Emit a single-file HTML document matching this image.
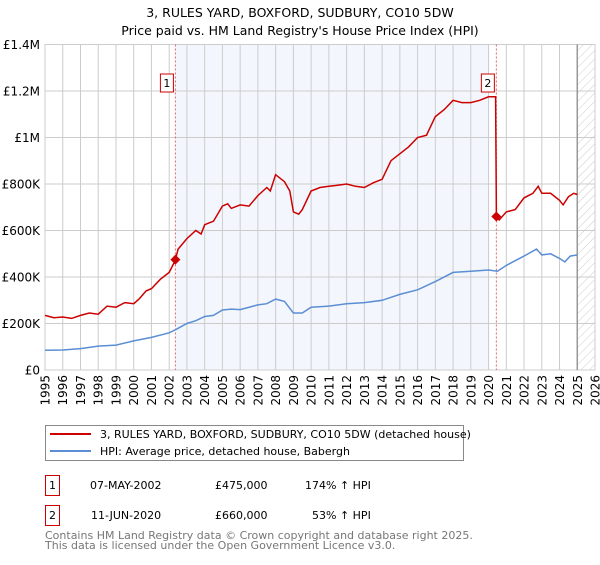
<!DOCTYPE html>
<html><head><meta charset="utf-8"><style>
body{margin:0;background:#fff;font-family:"Liberation Sans","DejaVu Sans",sans-serif;}
svg text{font-family:"DejaVu Sans","Liberation Sans",sans-serif;}
</style></head><body>
<svg id="chart" width="600" height="560" xmlns="http://www.w3.org/2000/svg">
<defs><pattern id="hatch" width="6" height="6" patternUnits="userSpaceOnUse" patternTransform="rotate(45)"><line x1="0" y1="0" x2="0" y2="6" stroke="#ccc" stroke-width="1"/></pattern></defs>
<text x="300" y="17" text-anchor="middle" font-size="12.5">3, RULES YARD, BOXFORD, SUDBURY, CO10 5DW</text>
<text x="300" y="35" text-anchor="middle" font-size="12.5">Price paid vs. HM Land Registry's House Price Index (HPI)</text>
<g id="plot"></g>
<g>
<rect x="45.5" y="425.5" width="418" height="35" fill="#fff" stroke="#888"/>
<line x1="50" y1="434" x2="91" y2="434" stroke="#cc0000" stroke-width="2"/>
<text x="100" y="438" font-size="11">3, RULES YARD, BOXFORD, SUDBURY, CO10 5DW (detached house)</text>
<line x1="50" y1="451" x2="91" y2="451" stroke="#5b8ed4" stroke-width="2"/>
<text x="100" y="455" font-size="11">HPI: Average price, detached house, Babergh</text>
</g>
<g font-size="11">
<rect x="45.5" y="475.5" width="14" height="20" fill="#fff" stroke="#cc0000"/><text x="52.5" y="489" text-anchor="middle">1</text>
<text x="90" y="489">07-MAY-2002</text><text x="215" y="489">£475,000</text><text x="305" y="489">174% ↑ HPI</text>
<rect x="45.5" y="505.5" width="14" height="20" fill="#fff" stroke="#cc0000"/><text x="52.5" y="519" text-anchor="middle">2</text>
<text x="91" y="519">11-JUN-2020</text><text x="215" y="519">£660,000</text><text x="312" y="519">53% ↑ HPI</text>
</g>
<text x="45" y="539" font-size="11" fill="#777">Contains HM Land Registry data © Crown copyright and database right 2025.</text>
<text x="45" y="549" font-size="11" fill="#777">This data is licensed under the Open Government Licence v3.0.</text>
</svg>
<script>
const redX=[1995,1995.5,1996,1996.5,1997,1997.5,1998,1998.5,1999,1999.5,2000,2000.3,2000.7,2001,2001.5,2002,2002.3,2002.35,2002.5,2003,2003.5,2003.8,2004,2004.5,2005,2005.3,2005.5,2006,2006.5,2007,2007.5,2007.7,2008,2008.5,2008.8,2009,2009.3,2009.5,2010,2010.5,2011,2011.5,2012,2012.5,2013,2013.5,2014,2014.5,2015,2015.5,2016,2016.5,2017,2017.5,2018,2018.5,2019,2019.5,2020,2020.4,2020.44,2020.6,2021,2021.5,2022,2022.5,2022.8,2023,2023.5,2024,2024.2,2024.5,2024.8,2025];
const redY=[235,225,228,222,235,245,240,275,270,290,285,305,340,350,390,420,465,475,520,565,600,585,625,640,705,715,695,710,705,750,785,770,840,810,770,680,670,690,770,785,790,795,800,790,785,805,820,900,930,960,1000,1010,1090,1120,1160,1150,1150,1160,1175,1175,660,645,680,690,740,760,790,760,760,730,710,745,760,755];
const hpiX=[1995,1996,1997,1998,1999,2000,2001,2002,2002.4,2003,2003.5,2004,2004.5,2005,2005.5,2006,2007,2007.5,2008,2008.5,2009,2009.5,2010,2011,2012,2013,2014,2015,2016,2017,2018,2019,2020,2020.5,2021,2022,2022.7,2023,2023.5,2024,2024.3,2024.6,2025];
const hpiY=[85,86,92,103,107,125,140,160,175,200,212,230,235,258,262,260,280,285,305,295,245,245,270,275,285,290,300,325,345,380,420,425,430,425,450,490,520,495,500,480,465,490,495];
const yTicks=[0,200,400,600,800,1000,1200,1400];
const yTickLabels=["£0","£200K","£400K","£600K","£800K","£1M","£1.2M","£1.4M"];
const xTicks=[1995,1996,1997,1998,1999,2000,2001,2002,2003,2004,2005,2006,2007,2008,2009,2010,2011,2012,2013,2014,2015,2016,2017,2018,2019,2020,2021,2022,2023,2024,2025,2026];
const saleX=[2002.35,2020.44];
const saleY=[475,660];
const saleLabels=["1","2"];

const L=45,R=595,T=44.5,B=370;
const sx=v=>L+(v-1995)/(2026-1995)*(R-L);
const sy=v=>B-v/1400*(B-T);
const g=document.getElementById('plot');
const NS='http://www.w3.org/2000/svg';
function mk(tag,attrs,parent){const e=document.createElementNS(NS,tag);for(const k in attrs)e.setAttribute(k,attrs[k]);(parent||g).appendChild(e);return e;}
let e;
e=mk('rect',{x:sx(saleX[0]),y:T,width:sx(2020)-sx(saleX[0]),height:B-T,fill:'#eef3fc',opacity:0.7});


e=mk('rect',{x:sx(2025),y:T,width:R-sx(2025),height:B-T,fill:'url(#hatch)'});


yTicks.forEach((v,i)=>{
 e=mk('line',{x1:L,x2:R,y1:sy(v),y2:sy(v),stroke:'#ccc','stroke-width':1});
 
 
 e=mk('text',{x:L-5,y:sy(v)+4.5,'text-anchor':'end','font-size':12});
 e.textContent=yTickLabels[i];
 
 
});
xTicks.forEach(v=>{
 e=mk('line',{x1:sx(v),x2:sx(v),y1:T,y2:B,stroke:'#ccc','stroke-width':1});
 
 
 e=mk('text',{x:0,y:0,'text-anchor':'end','font-size':12,transform:`translate(${sx(v)+4.5},${B+5}) rotate(-90)`});
 e.textContent=v;
 
 
});
e=mk('rect',{x:L,y:T,width:R-L,height:B-T,fill:'none',stroke:'#ccc'});


e=mk('line',{x1:sx(2025),x2:sx(2025),y1:T,y2:B,stroke:'#999','stroke-width':1.5});


saleX.forEach((v,i)=>{
 e=mk('line',{x1:sx(v),x2:sx(v),y1:T,y2:B,stroke:'#e06666','stroke-width':1,'stroke-dasharray':'2,2'});
 
 
});
const path=(xs,ys)=>xs.map((x,i)=>(i?'L':'M')+sx(x).toFixed(1)+','+sy(ys[i]).toFixed(1)).join('');
e=mk('path',{d:path(hpiX,hpiY),fill:'none',stroke:'#5b8ed4','stroke-width':1.5});


e=mk('path',{d:path(redX,redY),fill:'none',stroke:'#cc0000','stroke-width':1.5});


saleX.forEach((v,i)=>{
 const cx=sx(v),cy=sy(saleY[i]);
 e=mk('path',{d:`M${cx},${cy-5}L${cx+5},${cy}L${cx},${cy+5}L${cx-5},${cy}Z`,fill:'#cc0000'});
 
 
 e=mk('rect',{x:cx-15,y:74,width:13,height:18,fill:'#fff',stroke:'#cc0000'});
 
 
 e=mk('text',{x:cx-8.5,y:87,'text-anchor':'middle','font-size':11});
 e.textContent=saleLabels[i];
 
 
});
</script>
</body></html>
